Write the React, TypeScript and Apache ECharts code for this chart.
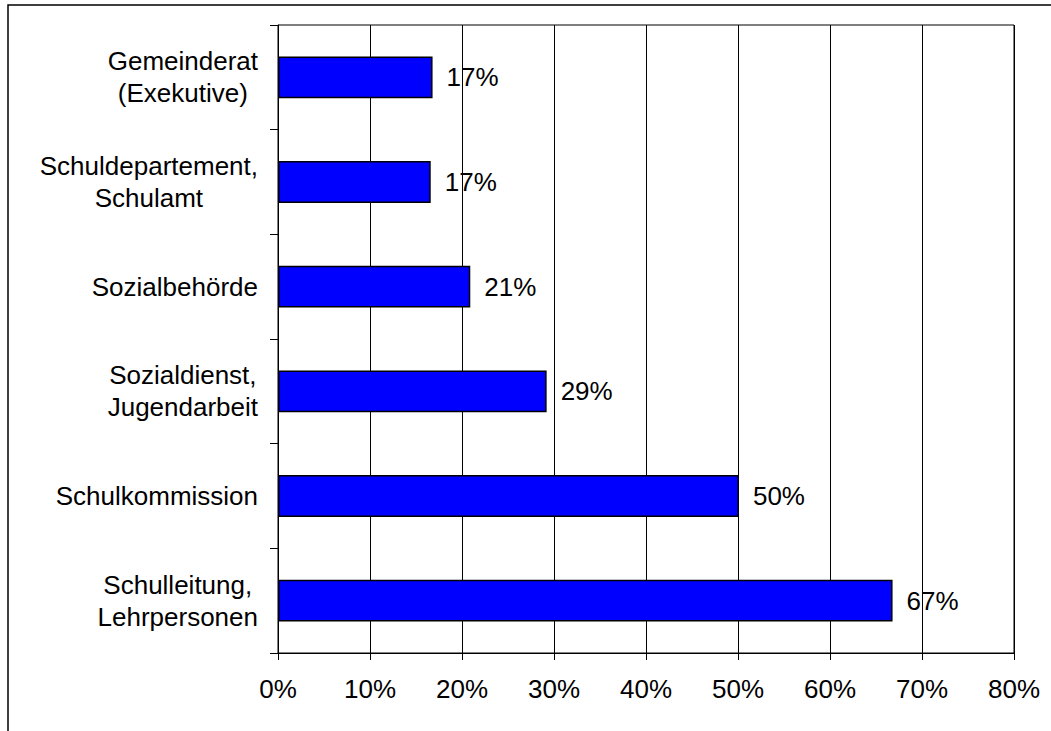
import React, { useEffect, useRef } from "react";
import * as echarts from "echarts";

const categories = [
  "Gemeinderat\n(Exekutive)",
  "Schuldepartement,\nSchulamt",
  "Sozialbehörde",
  "Sozialdienst,\nJugendarbeit",
  "Schulkommission",
  "Schulleitung,\nLehrpersonen",
];
const values = [16.8, 16.6, 20.9, 29.2, 50.1, 66.8];
const xTicks = { min: 0, max: 80, interval: 10 };

const FONT = "Liberation Sans, Arial, sans-serif";
const FS = 26;

export default function App() {
  const ref = useRef<HTMLDivElement>(null);
  useEffect(() => {
    if (!ref.current) return;
    const chart = echarts.init(ref.current, undefined, { renderer: "svg" });
    chart.setOption({
      animation: false,
      backgroundColor: "#fff",
      textStyle: { fontFamily: FONT },
      graphic: [
        {
          type: "rect",
          shape: { x: 8, y: 5, width: 1200, height: 900 },
          style: { fill: "none", stroke: "#000", lineWidth: 1.5 },
          silent: true,
        },
      ],
      grid: {
        left: 278,
        right: 37,
        top: 25,
        bottom: 78,
        show: true,
        borderColor: "#000",
        borderWidth: 1,
        containLabel: false,
      },
      xAxis: {
        type: "value",
        min: xTicks.min,
        max: xTicks.max,
        interval: xTicks.interval,
        axisLine: { show: true, lineStyle: { color: "#000", width: 1 } },
        axisTick: { show: true, length: 7, lineStyle: { color: "#000" } },
        splitLine: { show: true, lineStyle: { color: "#000", width: 1 } },
        axisLabel: {
          formatter: "{value}%",
          fontSize: FS,
          color: "#000",
          fontFamily: FONT,
          margin: 23,
        },
      },
      yAxis: {
        type: "category",
        inverse: true,
        data: categories,
        axisLine: { show: true, lineStyle: { color: "#000", width: 1 } },
        axisTick: { show: true, length: 8, lineStyle: { color: "#000" } },
        splitLine: { show: false },
        axisLabel: {
          margin: 20,
          color: "#000",
          fontSize: FS,
          fontFamily: FONT,
          formatter: (v: string) =>
            v
              .split("\n")
              .map((l) => `{c|${l}}`)
              .join("\n"),
          rich: {
            c: {
              align: "center",
              fontSize: FS,
              lineHeight: 32,
              color: "#000",
              fontFamily: FONT,
            },
          },
        },
      },
      series: [
        {
          type: "bar",
          data: values,
          barWidth: "40%",
          itemStyle: { color: "#0000FF", borderColor: "#000", borderWidth: 1.5 },
          label: {
            show: true,
            position: "right",
            distance: 14,
            fontSize: FS,
            color: "#000",
            fontFamily: FONT,
            formatter: (p: any) => `${Math.round(p.value)}%`,
          },
        },
      ],
    });
    return () => chart.dispose();
  }, []);
  return (
    <div
      ref={ref}
      style={{ position: "fixed", left: 0, top: 0, width: 1051, height: 731 }}
    />
  );
}
